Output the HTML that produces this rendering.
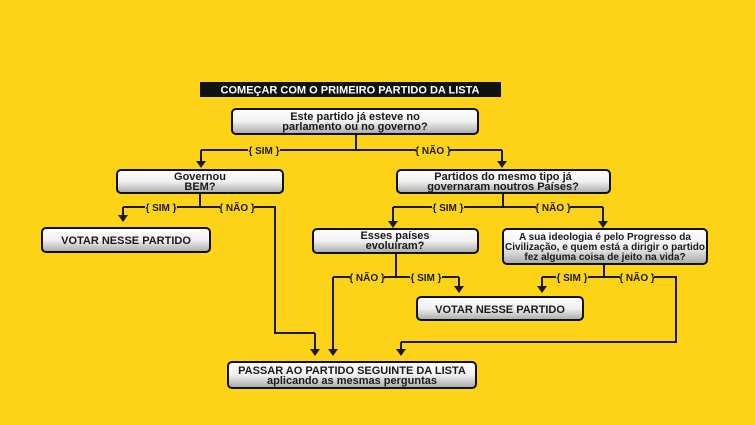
<!DOCTYPE html>
<html><head><meta charset="utf-8"><style>
html,body{margin:0;padding:0;background:#fcd316;}
svg{display:block}
text{font-family:"Liberation Sans Narrow","Liberation Sans",sans-serif;font-weight:bold;}
</style></head><body>
<svg width="755" height="425" viewBox="0 0 755 425" xmlns="http://www.w3.org/2000/svg">
<defs>
<linearGradient id="g" x1="0" y1="0" x2="0" y2="1">
<stop offset="0" stop-color="#ffffff"/><stop offset="0.5" stop-color="#f0f0f0"/><stop offset="1" stop-color="#a8a8a8"/>
</linearGradient>
<marker id="a" markerWidth="8" markerHeight="8" refX="4" refY="7" orient="auto" markerUnits="userSpaceOnUse">
<path d="M0,1 L8,1 L4,8 Z" fill="#1a1a1a" transform="rotate(-90 4 4)"/>
</marker>
</defs>
<rect width="755" height="425" fill="#fcd316"/>
<rect x="200" y="82" width="301" height="15" fill="#111"/>
<text x="350" y="93.5" font-size="11" fill="#fff" text-anchor="middle">COMEÇAR COM O PRIMEIRO PARTIDO DA LISTA</text>

<g stroke="#1a1a1a" stroke-width="2" fill="none">
<path d="M356,134 V150 M201,150 H502"/>
<path d="M201,150 V162"/><path d="M502,150 V162"/>
<path d="M200,193 V207 M123,207 H275 V333 H315"/>
<path d="M123,207 V216"/><path d="M315,333 V350"/>
<path d="M503,193 V207 M393,207 H603"/>
<path d="M393,207 V222"/><path d="M603,207 V222"/>
<path d="M396,253 V277 M333,277 H459"/>
<path d="M333,277 V350"/><path d="M459,277 V287"/>
<path d="M604,264 V277 M542,277 H676 V342 H401"/>
<path d="M542,277 V287"/><path d="M401,342 V350"/>
</g>
<g fill="#1a1a1a">
<path d="M196,161 h10 l-5,7z"/><path d="M497,161 h10 l-5,7z"/>
<path d="M118,215 h10 l-5,7z"/><path d="M310,349 h10 l-5,7z"/>
<path d="M388,221 h10 l-5,7z"/><path d="M598,221 h10 l-5,7z"/>
<path d="M328,349 h10 l-5,7z"/><path d="M454,286 h10 l-5,7z"/>
<path d="M537,286 h10 l-5,7z"/><path d="M396,349 h10 l-5,7z"/>
</g>

<g font-size="10" fill="#1a1a1a" text-anchor="middle">
<rect x="248" y="144" width="32" height="12" fill="#fcd316"/><text x="264" y="154">{ SIM }</text>
<rect x="416" y="144" width="34" height="12" fill="#fcd316"/><text x="433" y="154">{ NÃO }</text>
<rect x="145" y="201" width="32" height="12" fill="#fcd316"/><text x="161" y="211">{ SIM }</text>
<rect x="220" y="201" width="34" height="12" fill="#fcd316"/><text x="237" y="211">{ NÃO }</text>
<rect x="432" y="201" width="32" height="12" fill="#fcd316"/><text x="448" y="211">{ SIM }</text>
<rect x="536" y="201" width="34" height="12" fill="#fcd316"/><text x="553" y="211">{ NÃO }</text>
<rect x="350" y="271" width="34" height="12" fill="#fcd316"/><text x="367" y="281">{ NÃO }</text>
<rect x="410" y="271" width="32" height="12" fill="#fcd316"/><text x="426" y="281">{ SIM }</text>
<rect x="556" y="271" width="32" height="12" fill="#fcd316"/><text x="572" y="281">{ SIM }</text>
<rect x="620" y="271" width="34" height="12" fill="#fcd316"/><text x="637" y="281">{ NÃO }</text>
</g>

<g stroke="#111" stroke-width="2" fill="url(#g)">
<rect x="232" y="109" width="246" height="25" rx="4"/>
<rect x="117" y="170" width="166" height="23" rx="4"/>
<rect x="397" y="170" width="213" height="23" rx="4"/>
<rect x="42" y="228" width="168" height="24" rx="4"/>
<rect x="313" y="229" width="165" height="24" rx="4"/>
<rect x="503" y="229" width="204" height="35" rx="4"/>
<rect x="417" y="297" width="166" height="23" rx="4"/>
<rect x="228" y="362" width="248" height="26" rx="4"/>
</g>

<g fill="#1a1a1a" text-anchor="middle" font-size="11">
<text x="355" y="120">Este partido já esteve no</text>
<text x="355" y="130">parlamento ou no governo?</text>
<text x="200" y="180">Governou</text>
<text x="200" y="190">BEM?</text>
<text x="503" y="180">Partidos do mesmo tipo já</text>
<text x="503" y="190">governaram noutros Países?</text>
<text x="126" y="244">VOTAR NESSE PARTIDO</text>
<text x="395" y="239">Esses países</text>
<text x="395" y="249">evoluíram?</text>
<text x="605" y="240" font-size="10">A sua ideologia é pelo Progresso da</text>
<text x="605" y="250" font-size="10">Civilização, e quem está a dirigir o partido</text>
<text x="605" y="260" font-size="10">fez alguma coisa de jeito na vida?</text>
<text x="500" y="313">VOTAR NESSE PARTIDO</text>
<text x="352" y="374">PASSAR AO PARTIDO SEGUINTE DA LISTA</text>
<text x="352" y="384" font-weight="normal" style="font-weight:bold">aplicando as mesmas perguntas</text>
</g>
</svg>
</body></html>
